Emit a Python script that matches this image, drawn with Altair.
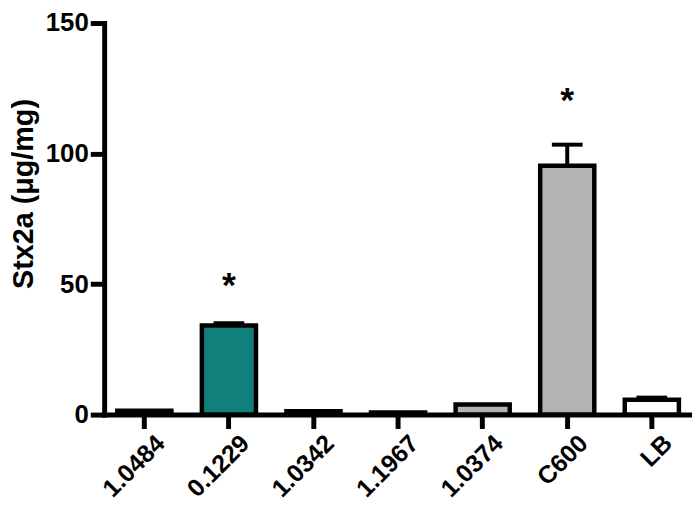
import altair as alt
import pandas as pd

categories = ["1.0484", "0.1229", "1.0342", "1.1967", "1.0374", "C600", "LB"]
values = [1.5, 34.1, 1.3, 0.8, 3.9, 95.3, 5.7]
errors = [0.0, 0.9, 0.0, 0.0, 0.0, 8.1, 0.8]
fills = ["#ffffff", "#117f7b", "#ffffff", "#ffffff", "#b3b3b3", "#b3b3b3", "#ffffff"]
star_cats = ["0.1229", "C600"]
star_y = [50.3, 121.3]

df = pd.DataFrame({
    "cat": categories,
    "value": values,
    "upper": [v + e for v, e in zip(values, errors)],
    "err": errors,
    "fill": fills,
})
df_star = pd.DataFrame({"cat": star_cats, "sy": star_y, "txt": ["*"] * len(star_cats)})

FONT = "Liberation Sans"
xscale = alt.Scale(paddingInner=0.36, paddingOuter=0.155)
yscale = alt.Scale(domain=[0, 150])
YTITLE = "Stx2a (μg/mg)"

xaxis = alt.Axis(
    title=None, labelAngle=-45, labelAlign="right", labelBaseline="top",
    labelFontSize=25, labelFont=FONT, labelFontWeight="bold", labelColor="black",
    labelPadding=2, labelOffset=8, tickSize=14, tickWidth=5, tickColor="black",
    domainWidth=5, domainColor="black", domainCap="square",
)
yaxis = alt.Axis(
    title=YTITLE, values=[0, 50, 100, 150], grid=False,
    labelFontSize=26, labelFont=FONT, labelFontWeight="bold", labelColor="black",
    labelPadding=2, tickSize=14, tickWidth=5, tickColor="black",
    domainWidth=5, domainColor="black", domainCap="square",
    titleFontSize=29, titleFont=FONT, titleFontWeight="bold", titleColor="black",
    titleBaseline="top", titleAlign="center", titleAngle=270,
    titleX=-95, titleY=172,
)

X = alt.X("cat:N", sort=categories, scale=xscale, axis=xaxis)

bars = alt.Chart(df).mark_bar(stroke="black", strokeWidth=4.5).encode(
    x=X,
    y=alt.Y("value:Q", scale=yscale, axis=yaxis, title=YTITLE),
    fill=alt.Fill("fill:N", scale=None),
)

err_df = df[df["err"] > 0]
rules = alt.Chart(err_df).mark_rule(color="black", strokeWidth=4).encode(
    x=X,
    y=alt.Y("value:Q", scale=yscale, axis=yaxis, title=YTITLE),
    y2="upper:Q",
)
caps = alt.Chart(err_df).mark_tick(color="black", thickness=4, size=31, opacity=1).encode(
    x=X,
    y=alt.Y("upper:Q", scale=yscale, axis=yaxis, title=YTITLE),
)
stars = alt.Chart(df_star).mark_text(
    font=FONT, fontWeight="bold", fontSize=36, color="black", baseline="middle", dy=3
).encode(
    x=X,
    y=alt.Y("sy:Q", scale=yscale, axis=yaxis, title=YTITLE),
    text="txt:N",
)

chart = alt.layer(rules, bars, caps, stars).properties(
    width=593, height=395,
    autosize=alt.AutoSizeParams(type="none"),
    padding={"left": 97, "top": 13, "right": 0, "bottom": 85},
    background="white",
).configure_view(stroke=None)

chart.save("out.html", embed_options={"renderer": "svg", "actions": False})
